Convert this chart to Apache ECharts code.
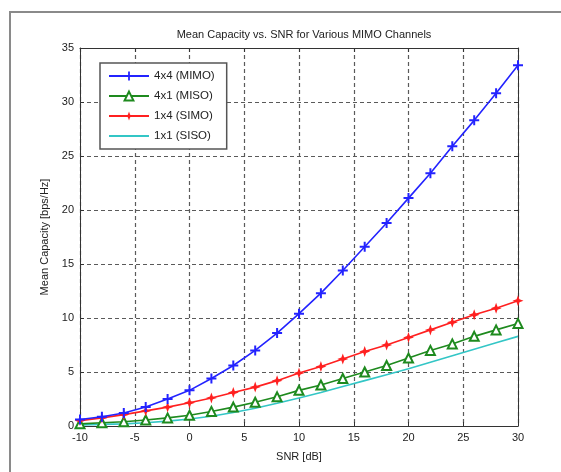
<!DOCTYPE html>
<html>
<head>
<meta charset="utf-8">
<script src="https://cdn.jsdelivr.net/npm/echarts@6/dist/echarts.min.js"></script>
<style>
  html, body { margin: 0; padding: 0; background: #fff; }
  #chart { width: 561px; height: 472px; }
</style>
</head>
<body>
<div id="chart"></div>
<script>
// SNR points in dB
const snr = [-10, -8, -6, -4, -2, 0, 2, 4, 6, 8, 10, 12, 14, 16, 18, 20, 22, 24, 26, 28, 30];

// mean capacity [bps/Hz]
const mimo4x4 = [0.6, 0.85, 1.2, 1.75, 2.5, 3.3, 4.4, 5.6, 7.0, 8.6, 10.4, 12.3, 14.4, 16.6, 18.8, 21.1, 23.4, 25.9, 28.3, 30.8, 33.4];
const miso4x1 = [0.2, 0.3, 0.4, 0.55, 0.75, 1.0, 1.35, 1.75, 2.2, 2.7, 3.3, 3.8, 4.4, 5.0, 5.6, 6.3, 7.0, 7.6, 8.3, 8.9, 9.5];
const simo1x4 = [0.5, 0.75, 1.05, 1.4, 1.75, 2.15, 2.6, 3.1, 3.6, 4.2, 4.9, 5.5, 6.2, 6.9, 7.5, 8.2, 8.9, 9.6, 10.3, 10.9, 11.6];
const siso1x1 = [0.1, 0.15, 0.2, 0.3, 0.45, 0.65, 0.9, 1.25, 1.65, 2.1, 2.6, 3.1, 3.65, 4.2, 4.75, 5.3, 5.9, 6.5, 7.1, 7.7, 8.3];

const seriesNames = ['4x4 (MIMO)', '4x1 (MISO)', '1x4 (SIMO)', '1x1 (SISO)'];

const pairs = (ys) => snr.map((x, i) => [x, ys[i]]);

const FONT = 'Liberation Sans, Arial, sans-serif';
const PLUS = 'path://M4,0 L6,0 L6,4 L10,4 L10,6 L6,6 L6,10 L4,10 L4,6 L0,6 L0,4 L4,4 Z';
const STAR4 = 'path://M5,0 L6.3,3.7 L10,5 L6.3,6.3 L5,10 L3.7,6.3 L0,5 L3.7,3.7 Z';

const chart = echarts.init(document.getElementById('chart'), null, { renderer: 'canvas' });

const axisCommon = {
  axisLine: { show: true, onZero: false, lineStyle: { color: '#333', width: 1 } },
  axisTick: { show: true, inside: true, length: 4, lineStyle: { color: '#333' } },
  axisLabel: { color: '#222', fontFamily: FONT, fontSize: 11 },
};
const gridLine = { show: true, lineStyle: { color: '#5a5a5a', type: [4, 3], width: 1.2 } };

chart.setOption({
  backgroundColor: '#fff',
  animation: false,
  title: {
    text: 'Mean Capacity vs. SNR for Various MIMO Channels',
    left: 299,
    textAlign: 'center',
    top: 24,
    textStyle: { fontFamily: FONT, fontSize: 11, fontWeight: 'normal', color: '#222' },
  },
  graphic: [
    {
      // figure window frame
      type: 'rect',
      shape: { x: 10, y: 12, width: 620, height: 520 },
      style: { fill: 'none', stroke: '#8a8a8a', lineWidth: 2 },
      silent: true,
    },
  ],
  grid: { left: 80, right: 43, top: 48, bottom: 46, show: false },
  legend: {
    orient: 'vertical',
    left: 100,
    top: 63,
    data: [
      seriesNames[0],
      seriesNames[1],
      seriesNames[2],
      { name: seriesNames[3], itemStyle: { opacity: 0 } },
    ],
    itemWidth: 40,
    itemHeight: 11,
    itemGap: 8,
    padding: [7, 12, 7, 8],
    borderColor: '#555',
    borderWidth: 1.5,
    backgroundColor: '#fff',
    textStyle: { fontFamily: FONT, fontSize: 11.5, color: '#222' },
  },
  xAxis: [
    Object.assign({}, axisCommon, {
      type: 'value',
      min: -10,
      max: 30,
      interval: 5,
      name: 'SNR [dB]',
      nameLocation: 'middle',
      nameGap: 25,
      nameTextStyle: { fontFamily: FONT, fontSize: 11, color: '#222' },
      axisLabel: Object.assign({}, axisCommon.axisLabel, { margin: 6 }),
      splitLine: gridLine,
    }),
    Object.assign({}, axisCommon, {
      type: 'value',
      position: 'top',
      min: -10,
      max: 30,
      interval: 5,
      axisLabel: { show: false },
      splitLine: { show: false },
    }),
  ],
  yAxis: [
    Object.assign({}, axisCommon, {
      type: 'value',
      min: 0,
      max: 35,
      interval: 5,
      name: 'Mean Capacity [bps/Hz]',
      nameLocation: 'middle',
      nameGap: 19,
      nameTextStyle: { fontFamily: FONT, fontSize: 11, color: '#222' },
      axisLabel: Object.assign({}, axisCommon.axisLabel, { margin: 6 }),
      splitLine: gridLine,
    }),
    Object.assign({}, axisCommon, {
      type: 'value',
      position: 'right',
      min: 0,
      max: 35,
      interval: 5,
      axisLabel: { show: false },
      splitLine: { show: false },
    }),
  ],
  series: [
    {
      name: seriesNames[0],
      type: 'line',
      data: pairs(mimo4x4),
      symbol: PLUS,
      symbolSize: 10,
      lineStyle: { color: '#2323ff', width: 1.6 },
      itemStyle: { color: '#2323ff' },
      z: 5,
    },
    {
      name: seriesNames[1],
      type: 'line',
      data: pairs(miso4x1),
      symbol: 'emptyTriangle',
      symbolSize: 9,
      lineStyle: { color: '#1e8a1e', width: 1.6 },
      itemStyle: { color: '#1e8a1e', borderWidth: 1.5 },
      z: 4,
    },
    {
      name: seriesNames[2],
      type: 'line',
      data: pairs(simo1x4),
      symbol: STAR4,
      symbolSize: 11,
      lineStyle: { color: '#ff2020', width: 1.6 },
      itemStyle: { color: '#ff2020' },
      z: 4,
    },
    {
      name: seriesNames[3],
      type: 'line',
      data: pairs(siso1x1),
      symbol: 'none',
      lineStyle: { color: '#33c6c6', width: 1.6 },
      itemStyle: { color: '#33c6c6' },
      z: 3,
    },
  ],
});
</script>
</body>
</html>
